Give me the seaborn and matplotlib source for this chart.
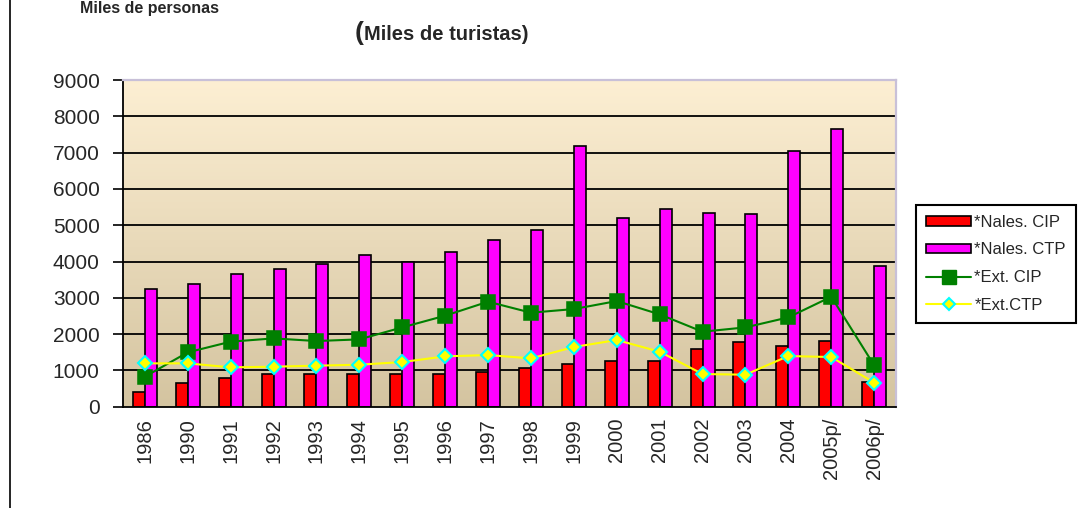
import numpy as np
import pandas as pd
import matplotlib
matplotlib.use("Agg")
import matplotlib.pyplot as plt
from matplotlib.lines import Line2D
from matplotlib.patches import Patch
import seaborn as sns

years = ["1986", "1990", "1991", "1992", "1993", "1994", "1995", "1996", "1997",
         "1998", "1999", "2000", "2001", "2002", "2003", "2004", "2005p/", "2006p/"]
nales_cip = [413, 643, 780, 890, 890, 890, 890, 890, 965, 1075, 1175, 1258, 1258,
             1590, 1772, 1680, 1818, 689]
nales_ctp = [3232, 3370, 3655, 3802, 3939, 4169, 3985, 4260, 4591, 4876, 7172, 5207,
             5436, 5344, 5298, 7043, 7649, 3875]
ext_cip = [826, 1497, 1791, 1882, 1809, 1855, 2185, 2507, 2893, 2590, 2690, 2911,
           2544, 2066, 2185, 2461, 3030, 1139]
ext_ctp = [1194, 1194, 1084, 1102, 1130, 1157, 1230, 1387, 1423, 1331, 1644, 1837,
           1515, 900, 882, 1396, 1368, 661]
series_names = ["*Nales. CIP", "*Nales. CTP", "*Ext. CIP", "*Ext.CTP"]
yticks = list(range(0, 9001, 1000))

sns.set_style("white")
plt.rcParams['font.family'] = ['Liberation Sans', 'DejaVu Sans']

bars_df = pd.DataFrame({
    "year": years * 2,
    "value": nales_cip + nales_ctp,
    "series": [series_names[0]] * len(years) + [series_names[1]] * len(years),
})
ecip_df = pd.DataFrame({"year": years, "value": ext_cip})
ectp_df = pd.DataFrame({"year": years, "value": ext_ctp})

fig = plt.figure(figsize=(10.83, 5.08), dpi=100)
ax = fig.add_axes([0.1139, 0.1994, 0.7131, 0.6431])

RED = "#FF0000"
MAG = "#FF00FF"
GREEN = "#008000"
YEL = "#FFFF00"
CYAN = "#00FFFF"

sns.barplot(data=bars_df, x="year", y="value", hue="series", order=years,
            palette=[RED, MAG], width=0.56, edgecolor="black", linewidth=1.2,
            saturation=1, legend=False, ax=ax, zorder=2)
sns.pointplot(data=ecip_df, x="year", y="value", order=years, color=GREEN,
              markers="s", errorbar=None, ax=ax, markersize=9.5, linewidth=1.5,
              markeredgecolor=GREEN)
sns.pointplot(data=ectp_df, x="year", y="value", order=years, color=YEL,
              markers="D", errorbar=None, ax=ax, markersize=7, linewidth=1.5,
              markeredgecolor=CYAN, markeredgewidth=1.5)
for ln in ax.lines:
    ln.set_zorder(4)

n = len(years)

# gradient background
grad = np.linspace(0, 1, 256).reshape(-1, 1)
top = np.array([253, 239, 211]) / 255
bot = np.array([212, 196, 160]) / 255
img = top[None, None, :] * (1 - grad[:, :, None]) + bot[None, None, :] * grad[:, :, None]
ax.imshow(img, extent=[-0.5, n - 0.5, 0, 9000], aspect="auto", origin="upper", zorder=0)
ax.set_xlim(-0.5, n - 0.5)
ax.set_ylim(0, 9000)

for v in yticks[1:-1]:
    ax.axhline(v, color="black", lw=1.3, zorder=1)

ax.set_yticks(yticks)
ax.set_yticklabels([str(v) for v in yticks], fontsize=15)
ax.set_xticks(np.arange(-0.5, n, 1.0))
ax.set_xticklabels([])
ax.set_xticks(np.arange(n), minor=True)
ax.set_xticklabels(years, minor=True, rotation=90, fontsize=14.5)
ax.tick_params(axis="x", which="major", direction="out", length=6, width=1.2, color="black")
ax.tick_params(axis="x", which="minor", length=0, pad=8)
ax.tick_params(axis="y", direction="out", length=7, width=1.2, color="black", left=True, pad=10)
ax.set_xlabel("")
ax.set_ylabel("")

for s in ["left", "bottom"]:
    ax.spines[s].set_color("black")
    ax.spines[s].set_linewidth(1.3)
for s in ["top", "right"]:
    ax.spines[s].set_color("#C8C0D8")
    ax.spines[s].set_linewidth(1.6)
    ax.spines[s].set_visible(True)

handles = [
    Patch(facecolor=RED, edgecolor="black", linewidth=1.2),
    Patch(facecolor=MAG, edgecolor="black", linewidth=1.2),
    Line2D([0], [0], color=GREEN, lw=1.5, marker="s", markersize=9.5),
    Line2D([0], [0], color=YEL, lw=1.5, marker="D", markersize=6,
           markeredgecolor=CYAN, markeredgewidth=1.5),
]
leg = fig.legend(handles, series_names, loc="upper left",
                 bbox_to_anchor=(916 / 1083, 1 - 205 / 508), fontsize=12,
                 frameon=True, fancybox=False, edgecolor="black", framealpha=1,
                 handlelength=2.7, handleheight=0.5, labelspacing=0.75,
                 handletextpad=0.2, borderpad=0.6, borderaxespad=0)
leg.get_frame().set_linewidth(1.5)

fig.text(80 / 1083, 1 - 13 / 508, "Miles de personas", fontsize=11.5,
         fontweight="bold", ha="left", va="baseline")
fig.text(355 / 1083, 1 - 40 / 508, "(", fontsize=19, fontweight="bold",
         ha="left", va="baseline")
fig.text(364 / 1083, 1 - 40 / 508, "Miles de turistas)", fontsize=14.5,
         fontweight="bold", ha="left", va="baseline")

fig.add_artist(Line2D([10 / 1083, 10 / 1083], [0, 1], color="black", lw=1.2))

fig.savefig("out.png", dpi=100)
